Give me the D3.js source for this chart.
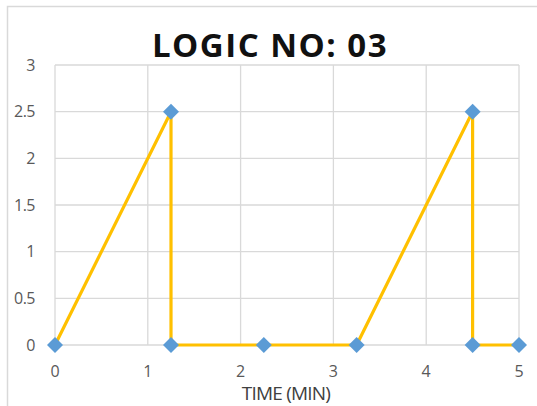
<!DOCTYPE html>
<html><head><meta charset="utf-8">
<script src="https://cdn.jsdelivr.net/npm/d3@7"></script>
<style>body{margin:0;background:#fff;} svg{display:block;}</style>
</head><body>
<script>
const xValues = [0, 1.25, 1.25, 2.25, 3.25, 4.5, 4.5, 5];
const yValues = [0, 2.5, 0, 0, 0, 2.5, 0, 0];
const xTicks = [0, 1, 2, 3, 4, 5];
const yTicks = [0, 0.5, 1, 1.5, 2, 2.5, 3];
const title = "LOGIC NO: 03";
const xTitle = "TIME (MIN)";

const W = 537, H = 406;
const svg = d3.select("body").append("svg").attr("width", W).attr("height", H);
svg.append("rect").attr("x", 0).attr("y", 0).attr("width", W).attr("height", H).attr("fill", "#fff");
svg.append("path").attr("d", `M7.5,${H} V6.5 H${W}`).attr("fill", "none").attr("stroke", "#d9d9d9").attr("stroke-width", 1.5);

const m = {left: 55, right: 519, top: 65, bottom: 345};
const x = d3.scaleLinear().domain([0, 5]).range([m.left, m.right]);
const y = d3.scaleLinear().domain([0, 3]).range([m.bottom, m.top]);

const g = svg.append("g");
g.selectAll("line.h").data(yTicks).join("line")
  .attr("x1", m.left).attr("x2", m.right)
  .attr("y1", d => y(d)).attr("y2", d => y(d))
  .attr("stroke", "#d9d9d9").attr("stroke-width", 1.3);
g.selectAll("line.v").data(xTicks).join("line")
  .attr("y1", m.top).attr("y2", m.bottom)
  .attr("x1", d => x(d)).attr("x2", d => x(d))
  .attr("stroke", "#d9d9d9").attr("stroke-width", 1.3);

g.selectAll("text.yl").data(yTicks).join("text")
  .attr("x", 35).attr("y", d => y(d)).attr("dy", "0.35em")
  .attr("text-anchor", "end").attr("font-family", "Open Sans, sans-serif")
  .attr("font-size", 16).attr("letter-spacing", -0.5).attr("fill", "#595959").text(d => d);
g.selectAll("text.xl").data(xTicks).join("text")
  .attr("x", d => x(d)).attr("y", 377)
  .attr("text-anchor", "middle").attr("font-family", "Open Sans, sans-serif")
  .attr("font-size", 16).attr("fill", "#595959").text(d => d);

svg.append("text").attr("x", 286).attr("y", 400)
  .attr("text-anchor", "middle").attr("font-family", "Open Sans, sans-serif")
  .attr("font-size", 19).attr("letter-spacing", -0.8).attr("fill", "#404040").text(xTitle);

svg.append("text").attr("x", 270).attr("y", 57)
  .attr("text-anchor", "middle").attr("font-family", "Open Sans, sans-serif")
  .attr("font-weight", "bold").attr("font-size", 33).attr("letter-spacing", 1.5)
  .attr("fill", "#111").text(title);

const pts = xValues.map((v, i) => [v, yValues[i]]);
svg.append("path").datum(pts)
  .attr("d", d3.line().x(d => x(d[0])).y(d => y(d[1])))
  .attr("fill", "none").attr("stroke", "#FFC000").attr("stroke-width", 3.2)
  .attr("stroke-linejoin", "round");

svg.selectAll("path.mk").data(pts).join("path")
  .attr("transform", d => `translate(${x(d[0])},${y(d[1])})`)
  .attr("d", "M0,-8 L8,0 L0,8 L-8,0 Z")
  .attr("fill", "#5B9BD5");
</script>
</body></html>
